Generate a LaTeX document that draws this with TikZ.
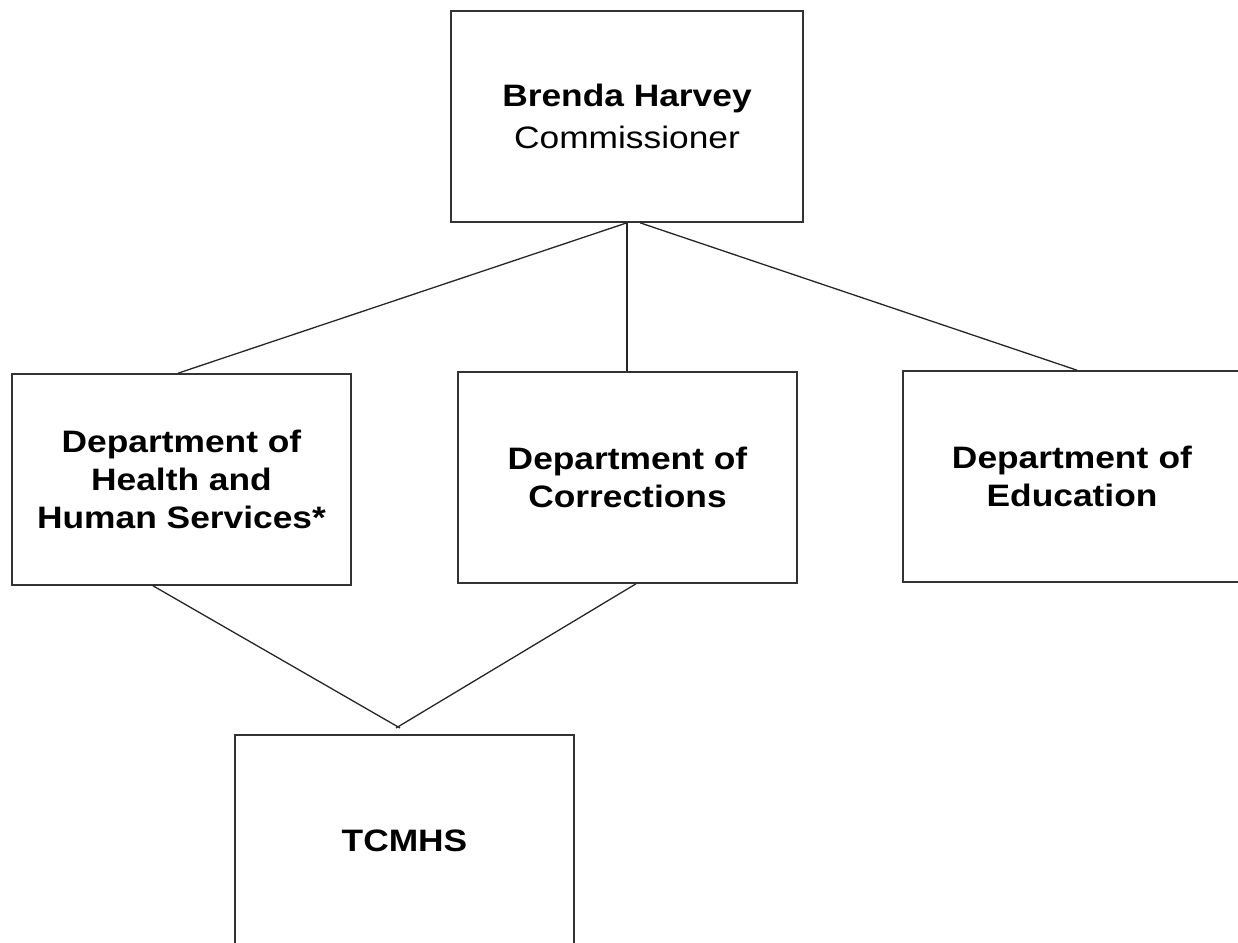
\documentclass[tikz,border=0pt]{standalone}
\usepackage{fontspec}
\setmainfont{Liberation Sans}[FakeStretch=1.14]
\begin{document}
\begin{tikzpicture}[x=1pt,y=-1pt,
  orgbox/.style={draw=black!80,line width=1.6pt,fill=white,rectangle,
    minimum height=211pt,align=center,inner sep=0pt,
    font=\fontsize{31}{38}\selectfont\bfseries},
  link/.style={draw=black!85,line width=1.3pt}]
\useasboundingbox (0,0) rectangle (1238,942);
\clip (0,0) rectangle (1238,942);
\node[orgbox,minimum width=352pt] (top) at (627,116.5)
  {Brenda Harvey\\[4pt]{\mdseries Commissioner}};
\node[orgbox,minimum width=339pt] (dhhs) at (181.5,479.5)
  {Department of\\Health and\\Human Services*};
\node[orgbox,minimum width=339pt] (doc) at (627.5,477.5)
  {Department of\\Corrections};
\node[orgbox,minimum width=342pt,text width=330pt] (doe) at (1074,476.5)
  {\hspace*{-4pt}Department of\\\hspace*{-4pt}Education};
\node[orgbox,minimum width=339pt] (tcmhs) at (404.5,840.5) {TCMHS};
\coordinate (ja) at (400,728);
\coordinate (jb) at (396,728);
\draw[link] (top.south) -- ([xshift=-3.5pt]dhhs.north);
\draw[link] (top.south) -- (top.south |- doc.north);
\draw[link] ([xshift=13pt]top.south) -- ([xshift=3pt]doe.north);
\draw[link] ([xshift=-28.5pt]dhhs.south) -- (ja);
\draw[link] ([xshift=8.5pt]doc.south) -- (jb);
\end{tikzpicture}
\end{document}
